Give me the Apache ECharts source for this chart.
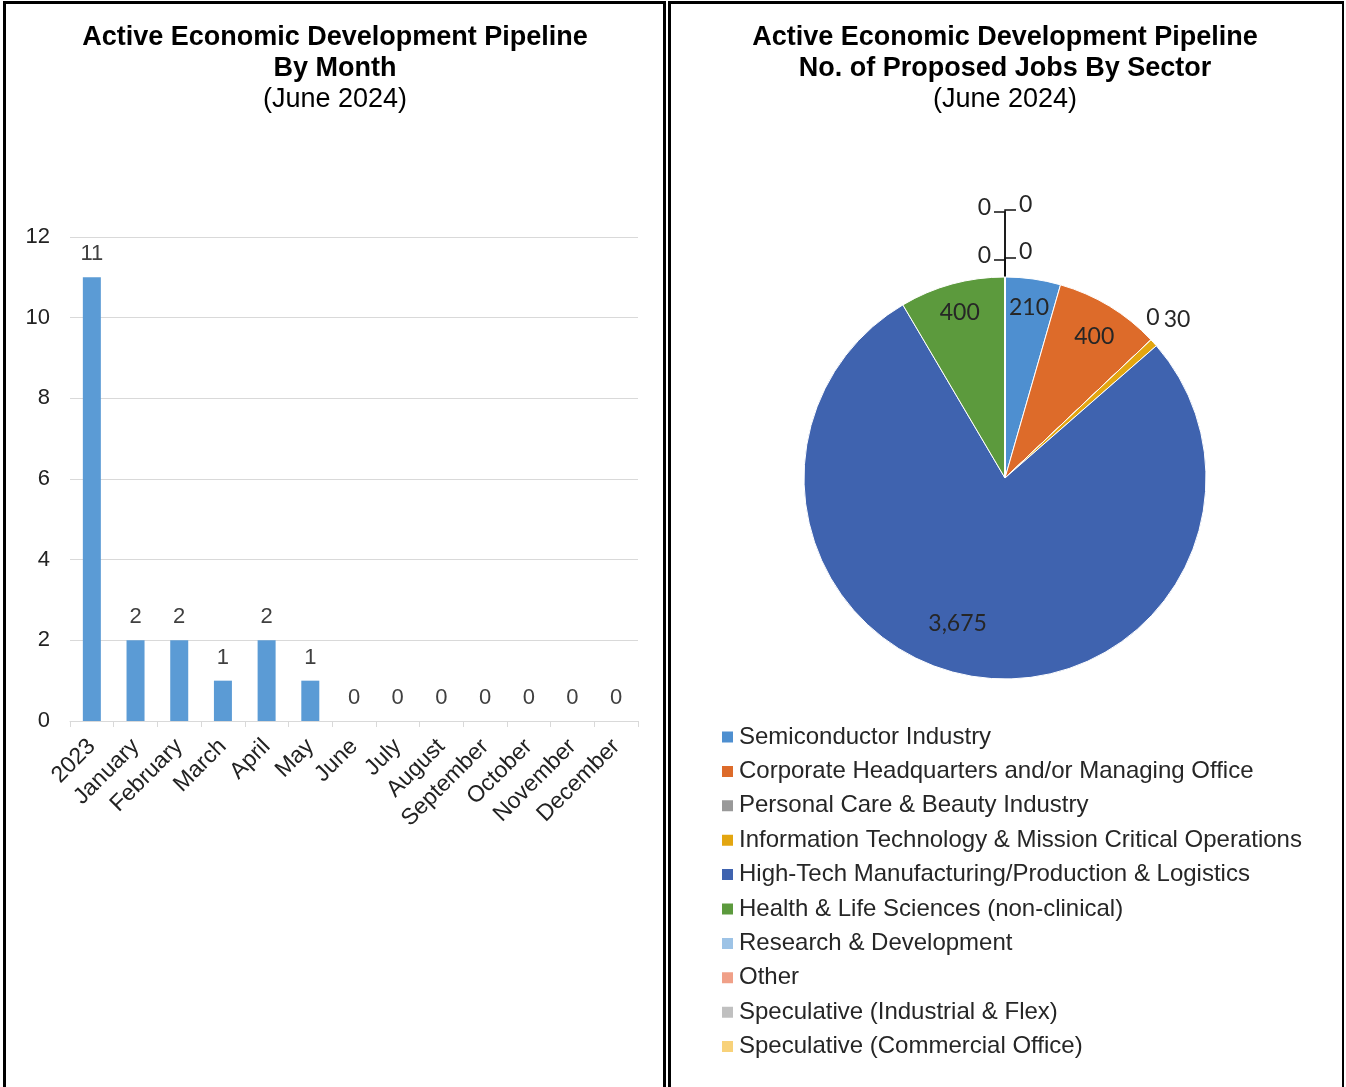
<!DOCTYPE html>
<html>
<head>
<meta charset="utf-8">
<script src="https://cdn.jsdelivr.net/npm/echarts@6/dist/echarts.min.js"></script>
<style>
  html, body { margin: 0; padding: 0; background: #fff; }
  #chart { position: absolute; left: 0; top: 0; width: 1346px; height: 1087px; }
  .panel { position: absolute; top: 1px; height: 1100px; border: 3px solid #000; border-bottom: none; pointer-events: none; }
</style>
</head>
<body>
<div id="chart"></div>
<div class="panel" style="left:3px; width:657px;"></div>
<div class="panel" style="left:668px; width:671px; border-right-width:2px;"></div>
<script>
// 柱状图数据
var months = ['2023', 'January', 'February', 'March', 'April', 'May', 'June',
    'July', 'August', 'September', 'October', 'November', 'December'];
var projectCounts = [11, 2, 2, 1, 2, 1, 0, 0, 0, 0, 0, 0, 0];
var yMin = 0, yMax = 12, yStep = 2;

// 饼图数据
var sectors = [
    'Semiconductor Industry',
    'Corporate Headquarters and/or Managing Office',
    'Personal Care & Beauty Industry',
    'Information Technology & Mission Critical Operations',
    'High-Tech Manufacturing/Production & Logistics',
    'Health & Life Sciences (non-clinical)',
    'Research & Development',
    'Other',
    'Speculative (Industrial & Flex)',
    'Speculative (Commercial Office)'
];
var proposedJobs = [210, 400, 0, 30, 3675, 400, 0, 0, 0, 0];
var sectorColors = ['#4e8fd0', '#dd6b2a', '#999999', '#e3a610', '#3f63af',
    '#5c9a3d', '#9dc3e6', '#f0a088', '#c0c0c0', '#f8d27a'];

var myChart = echarts.init(document.getElementById('chart'));

var cx = 1005, cy = 478, R = 201;   // pie centre / radius
var titleFont = '"Liberation Sans", Arial, sans-serif';
var labelFont = 'Lato, "Liberation Sans", sans-serif';

function titleText(x, y, text, bold) {
    return {
        type: 'text', x: x, y: y,
        style: {
            text: text, align: 'center', verticalAlign: 'middle',
            font: (bold ? 'bold ' : '') + '27px ' + titleFont, fill: '#000'
        }
    };
}

var pieData = sectors.map(function (name, i) {
    return {
        name: name,
        value: proposedJobs[i],
        itemStyle: { color: sectorColors[i] },
        label: { position: proposedJobs[i] >= 100 ? 'inside' : 'outside' },
        labelLine: { show: i >= 6 }
    };
});

// zero slices that sit at 12 o'clock: stacked labels on a leader line
var topZeroSlots = {
    6: { side: -1, y: 256, lineY: 260 },
    7: { side: 1, y: 252, lineY: 258 },
    8: { side: -1, y: 208, lineY: 212 },
    9: { side: 1, y: 205, lineY: 210 }
};

var option = {
    animation: false,
    textStyle: { fontFamily: titleFont },
    graphic: [
        titleText(335, 38, 'Active Economic Development Pipeline', true),
        titleText(335, 69, 'By Month', true),
        titleText(335, 100, '(June 2024)', false),
        titleText(1005, 38, 'Active Economic Development Pipeline', true),
        titleText(1005, 69, 'No. of Proposed Jobs By Sector', true),
        titleText(1005, 100, '(June 2024)', false)
    ],
    grid: { left: 70, top: 237, width: 568, height: 484 },
    xAxis: {
        type: 'category',
        data: months,
        axisLine: { lineStyle: { color: '#d9d9d9', width: 1 } },
        axisTick: { show: true, length: 6, lineStyle: { color: '#d9d9d9' } },
        axisLabel: {
            rotate: 45, margin: 22, fontSize: 23, color: '#222',
            fontFamily: titleFont, interval: 0
        }
    },
    yAxis: {
        type: 'value',
        min: yMin, max: yMax, interval: yStep,
        axisLine: { show: false },
        axisTick: { show: false },
        splitLine: { lineStyle: { color: '#d9d9d9', width: 1 } },
        axisLabel: { margin: 20, fontSize: 22, color: '#222', fontFamily: titleFont }
    },
    legend: {
        orient: 'vertical',
        left: 715, top: 720,
        icon: 'rect',
        itemWidth: 13, itemHeight: 13,
        itemGap: 10.4,
        data: sectors,
        textStyle: { fontSize: 24, lineHeight: 24, color: '#262626', fontFamily: titleFont }
    },
    series: [{
        name: '项目数',
        type: 'bar',
        data: projectCounts,
        barWidth: 18,
        itemStyle: { color: '#5b9bd5' },
        label: {
            show: true, position: 'top', distance: 12,
            fontSize: 22, color: '#404040', fontFamily: titleFont
        }
    }, {
        name: '岗位',
        type: 'pie',
        center: [cx, cy],
        radius: R,
        startAngle: 90,
        clockwise: true,
        avoidLabelOverlap: false,
        itemStyle: { borderColor: '#fff', borderWidth: 1 },
        label: {
            show: true,
            fontSize: 23, fontFamily: labelFont, color: '#262626',
            formatter: function (p) { return p.value.toLocaleString('en-US'); }
        },
        labelLine: {
            length: 10, length2: 10, smooth: false,
            lineStyle: { color: '#111', width: 1.5 }
        },
        labelLayout: function (p) {
            var i = p.dataIndex;
            if (proposedJobs[i] >= 100) {
                // push inside labels out toward the rim like Excel does
                var lx = p.labelRect.x + p.labelRect.width / 2 - cx;
                var ly = p.labelRect.y + p.labelRect.height / 2 - cy;
                var f = i === 4 ? 0.42 : 0.66;
                return { dx: lx * f - (i === 4 ? 24 : 0), dy: ly * f + (i === 1 ? 5 : 0) };
            }
            if (i === 2) return { x: cx + 148, y: cy - 160, align: 'center', verticalAlign: 'middle' };
            if (i === 3) return { x: cx + 172, y: cy - 158, align: 'center', verticalAlign: 'middle' };
            var s = topZeroSlots[i];
            if (s) {
                return {
                    x: cx + s.side * 14, y: s.y,
                    align: s.side < 0 ? 'right' : 'left', verticalAlign: 'middle',
                    labelLinePoints: [[cx, cy - R], [cx, s.lineY], [cx + s.side * 11, s.lineY]]
                };
            }
        },
        data: pieData
    }]
};

myChart.setOption(option);
</script>
</body>
</html>
